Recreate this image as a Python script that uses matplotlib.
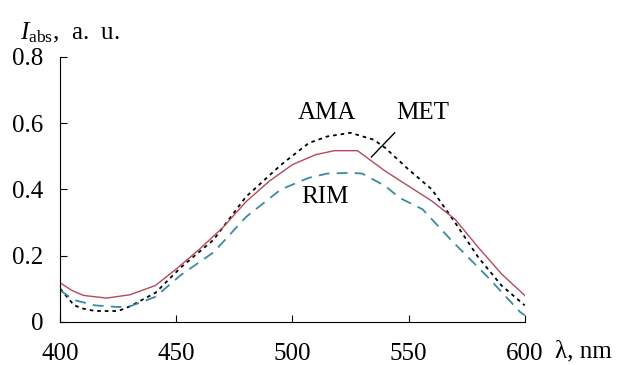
import matplotlib.pyplot as plt

plt.rcParams['font.family'] = ['Liberation Serif', 'DejaVu Serif']
plt.rcParams['mathtext.fontset'] = 'custom'
plt.rcParams['mathtext.rm'] = 'Liberation Serif'
plt.rcParams['mathtext.it'] = 'Liberation Serif:italic'

# wavelength (nm) and absorbance
wl_met = [400, 405, 410, 420, 430, 441, 450, 460, 470, 480, 490, 500, 510, 518, 528,
          540, 550, 560, 570, 580, 590, 600]
met = [0.118, 0.095, 0.08, 0.072, 0.082, 0.11, 0.16, 0.22, 0.285, 0.363, 0.425, 0.475,
       0.505, 0.517, 0.517, 0.455, 0.41, 0.365, 0.31, 0.225, 0.145, 0.08]

wl_ama = [400, 406, 410, 415, 425, 430, 441, 452, 466, 480, 495, 507, 515, 525, 535,
          540, 550, 560, 570, 580, 590, 600]
ama = [0.10, 0.05, 0.04, 0.033, 0.033, 0.047, 0.088, 0.165, 0.248, 0.378, 0.474, 0.54,
       0.56, 0.571, 0.55, 0.525, 0.46, 0.40, 0.30, 0.195, 0.11, 0.05]

wl_rim = [400, 406, 415, 425, 430, 441, 452, 466, 480, 495, 507, 515, 525, 530, 540,
          546, 556, 569, 584, 598, 600]
rim = [0.095, 0.066, 0.05, 0.045, 0.047, 0.076, 0.142, 0.21, 0.317, 0.40, 0.435, 0.448,
       0.45, 0.448, 0.41, 0.375, 0.34, 0.242, 0.136, 0.03, 0.02]

fig = plt.figure(figsize=(6.21, 3.65), dpi=100)
ax = fig.add_axes([0.097, 0.118, 0.748, 0.726])

ax.plot(wl_ama, ama, color='black', lw=1.3, linestyle=(0, (2, 2.2)))
ax.plot(wl_met, met, color='#b5495b', lw=1.0)
ax.plot(wl_rim, rim, color='#3b8ba0', lw=1.3, linestyle=(0, (6, 4)))

ax.set_xlim(400, 600)
ax.set_ylim(0, 0.8)
ax.set_xticks([400, 450, 500, 550, 600])
ax.set_yticks([0, 0.2, 0.4, 0.6, 0.8])
ax.set_yticklabels(['0', '0.2', '0.4', '0.6', '0.8'])
ax.tick_params(direction='in', length=5, width=0.8, labelsize=18)
ax.tick_params(axis='x', pad=15)
ax.tick_params(axis='y', pad=12)
for s in ['top', 'right']:
    ax.spines[s].set_visible(False)

fig.text(0.032, 0.91, r'$I_{\mathrm{abs}}$,  a.  u.', fontsize=18, va='center')
fig.text(0.893, 0.036, 'λ, nm', fontsize=18, va='center')

ax.text(515, 0.63, 'AMA', fontsize=18, ha='center', va='center')
ax.text(556, 0.63, 'MET', fontsize=18, ha='center', va='center')
ax.text(514, 0.378, 'RIM', fontsize=18, ha='center', va='center')
ax.plot([544, 534], [0.571, 0.498], color='black', lw=1.0)

fig.savefig('out.png')
